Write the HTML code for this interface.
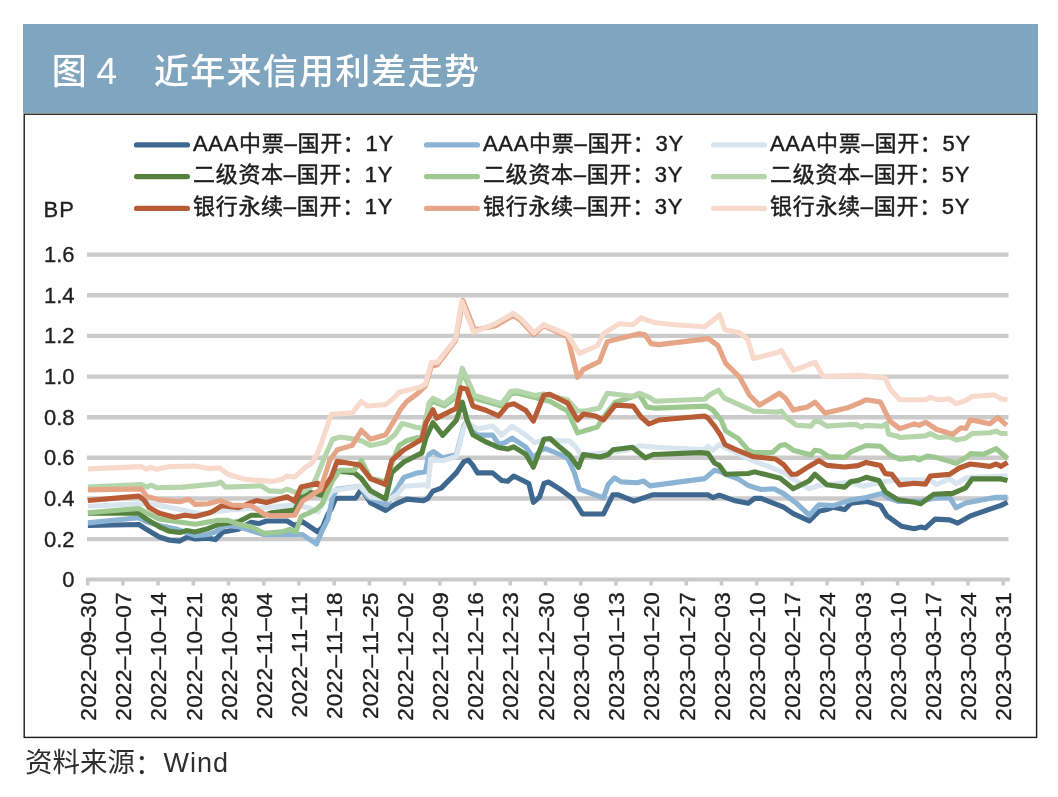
<!DOCTYPE html>
<html lang="zh-CN">
<head>
<meta charset="utf-8">
<title>图 4 近年来信用利差走势</title>
<style>
html,body{margin:0;padding:0;background:#fff;}
body{width:1058px;height:797px;position:relative;overflow:hidden;font-family:"Liberation Sans","Noto Sans CJK SC",sans-serif;}
.hdr{position:absolute;left:23px;top:24px;width:1015px;height:89px;background:#7fa5bf;}
.ttl{position:absolute;top:0;height:89px;line-height:95px;color:#fff;font-size:35px;font-weight:500;white-space:pre;}
.chart{position:absolute;left:0;top:0;}
.lat{font-family:"Liberation Sans",sans-serif;}
.leg{font-family:"Liberation Sans","Noto Sans CJK SC",sans-serif;}
.src{position:absolute;left:25px;top:744.5px;font-size:27.5px;line-height:36px;color:#2e2e2e;font-weight:400;white-space:pre;}
</style>
</head>
<body>
<div class="hdr"><span class="ttl" style="left:28.8px">图</span><span class="ttl" style="left:73.2px;font-weight:400;font-size:37.5px">4</span><span class="ttl" style="left:131px;letter-spacing:1.25px">近年来信用利差走势</span></div>
<svg class="chart" width="1058" height="797" viewBox="0 0 1058 797">
<rect x="24.2" y="114.2" width="1012.4" height="623.2" fill="none" stroke="#1a1a1a" stroke-width="1.4"/>
<g stroke="#cbcbcb" stroke-width="4.4" fill="none">
<line x1="87" y1="539.1" x2="1008.5" y2="539.1"/>
<line x1="87" y1="498.5" x2="1008.5" y2="498.5"/>
<line x1="87" y1="457.8" x2="1008.5" y2="457.8"/>
<line x1="87" y1="417.2" x2="1008.5" y2="417.2"/>
<line x1="87" y1="376.6" x2="1008.5" y2="376.6"/>
<line x1="87" y1="335.9" x2="1008.5" y2="335.9"/>
<line x1="87" y1="295.2" x2="1008.5" y2="295.2"/>
<line x1="87" y1="254.6" x2="1008.5" y2="254.6"/>
</g>
<g fill="none" stroke-width="5.1" stroke-linejoin="round" stroke-linecap="butt">
<polyline stroke="#3e6890" points="87.9,525.5 138.9,524.5 146.5,529.3 159.3,537.0 169.6,540.2 179.8,541.1 187.5,537.0 195.2,538.9 208.0,538.3 215.4,539.6 223.0,531.9 238.4,529.3 251.2,522.3 258.9,523.6 266.5,521.0 287.0,521.0 294.7,525.5 302.4,521.7 317.7,531.9 322.8,526.8 328.0,514.0 331.2,508.9 335.7,498.3 355.4,498.3 361.4,489.2 370.5,502.8 385.6,510.4 394.7,504.3 406.8,499.1 423.4,500.6 427.6,498.6 432.9,491.1 441.2,488.1 456.3,472.9 463.9,461.6 468.4,460.1 472.9,465.4 477.5,472.9 492.6,472.9 501.7,480.5 507.7,481.2 513.8,476.0 528.9,483.5 533.4,502.4 539.5,497.1 544.0,483.5 548.5,482.0 560.0,489.1 572.9,498.7 582.5,514.0 603.4,514.0 613.0,494.7 617.8,494.7 633.9,501.1 653.2,494.7 707.8,494.7 712.9,497.6 719.3,495.2 735.3,500.8 748.2,503.2 754.6,498.4 761.1,498.4 783.6,507.2 793.2,513.6 809.3,520.9 818.9,511.2 826.9,509.6 833.4,507.2 844.6,509.6 851.0,503.2 866.1,501.4 880.5,505.4 887.0,515.9 901.4,526.3 914.3,528.7 920.7,527.1 925.5,527.9 935.2,519.1 949.6,519.9 957.7,523.1 970.5,515.9 991.4,508.6 1001.0,505.4 1007.5,502.2"/>
<polyline stroke="#8ab3d4" points="87.9,522.9 138.9,517.8 146.5,521.7 159.3,525.5 177.2,529.3 195.2,535.7 208.0,534.5 215.4,531.9 225.6,525.5 238.4,526.8 264.0,534.5 289.6,534.5 302.4,534.5 316.4,544.0 322.8,529.3 328.0,519.1 332.7,496.8 337.2,489.2 359.9,486.2 367.5,496.8 386.9,505.0 394.8,492.2 403.9,477.4 417.5,472.9 425.4,471.7 428.8,454.7 433.4,451.5 442.7,457.8 456.3,454.8 463.9,426.0 466.9,421.0 472.0,430.0 477.5,435.1 492.6,435.1 498.6,444.2 504.7,442.7 512.2,438.1 525.9,447.2 533.4,457.8 541.0,450.2 545.5,448.7 560.0,454.5 568.0,458.6 574.5,473.0 579.3,489.1 603.4,497.9 608.2,484.3 614.6,477.8 621.1,481.9 637.1,482.7 643.6,481.1 650.0,485.9 704.6,478.6 714.5,470.3 720.9,471.9 725.7,474.3 738.6,479.1 748.2,485.5 761.1,489.5 773.9,488.7 783.6,493.6 796.4,503.2 809.3,515.2 818.9,504.8 833.4,505.6 851.0,500.0 866.1,497.4 882.1,493.4 888.6,498.2 898.2,501.4 920.7,501.4 933.6,498.2 949.6,497.4 956.1,507.8 965.7,503.0 994.6,497.4 1007.5,497.4"/>
<polyline stroke="#d8e5ef" points="87.9,506.3 138.9,503.7 151.7,503.7 169.6,507.6 182.4,510.1 200.0,514.0 230.0,510.0 260.0,508.0 295.0,505.0 310.0,508.0 318.0,512.0 325.0,500.0 332.7,490.7 359.9,486.2 370.5,496.8 388.6,499.8 397.7,493.8 403.8,486.2 424.9,484.7 428.0,486.5 430.6,459.3 442.7,460.8 456.3,456.3 463.9,427.6 466.9,422.0 472.0,426.0 477.5,429.1 492.6,426.0 501.7,435.1 512.2,426.0 525.9,435.1 534.9,442.7 544.0,439.7 560.0,440.9 569.6,440.9 576.0,447.3 581.0,455.3 613.0,452.0 629.0,449.7 640.3,445.7 656.4,447.3 704.6,449.7 708.0,446.2 712.9,450.2 719.3,444.5 724.1,447.0 754.6,461.4 772.3,467.8 783.6,472.7 793.2,479.1 809.3,488.7 818.9,485.5 850.0,482.1 862.9,486.2 882.1,482.1 898.2,479.7 920.7,479.7 930.3,480.5 936.8,484.5 949.6,478.9 956.1,483.7 965.7,478.1 972.1,477.3 1007.5,475.7"/>
<polyline stroke="#55833f" points="87.9,513.3 138.9,513.3 146.5,519.1 159.3,526.8 169.6,531.3 179.8,532.5 186.2,530.6 195.2,531.9 208.0,528.7 219.2,524.2 238.4,521.7 251.2,515.3 264.0,515.3 271.7,512.7 294.7,510.1 301.1,497.3 310.0,492.2 322.1,495.3 326.6,487.7 332.7,478.6 338.7,471.1 353.9,472.6 361.4,478.6 370.5,490.7 385.6,499.1 391.7,472.6 403.8,462.0 421.9,452.9 426.0,437.7 432.9,422.6 442.7,435.4 456.3,420.3 462.3,402.2 466.9,419.6 472.9,434.7 486.5,442.2 498.6,447.5 507.7,449.1 513.8,446.8 525.9,454.4 533.4,467.2 544.0,439.2 550.1,438.5 560.0,447.3 569.6,455.3 578.5,467.4 583.3,454.5 600.2,457.0 608.2,454.5 613.0,449.7 632.3,447.3 645.2,457.8 653.2,454.5 700.0,452.6 708.0,453.4 714.5,463.0 719.3,465.4 725.7,474.3 748.2,473.5 754.6,471.9 780.3,478.3 793.2,488.7 809.3,480.7 814.9,474.3 826.9,484.7 844.6,487.1 851.0,481.5 858.0,480.5 866.1,477.3 878.9,480.5 885.3,491.8 898.2,499.8 914.3,502.2 920.7,503.8 933.6,494.2 952.8,493.4 965.7,487.8 972.1,478.9 1001.0,478.9 1007.5,480.5"/>
<polyline stroke="#9dc990" points="87.9,512.7 138.9,508.5 146.5,512.7 159.3,519.1 177.2,521.7 195.2,524.2 216.6,520.4 228.2,520.4 238.4,524.2 251.2,526.8 264.0,533.2 281.9,531.9 289.6,529.3 296.0,531.9 301.1,516.5 315.2,510.1 322.1,504.3 332.7,480.2 340.2,470.3 353.9,470.3 361.4,460.5 370.5,478.6 385.6,481.7 391.7,463.5 399.2,445.4 406.8,440.8 421.9,436.3 429.0,405.9 432.9,401.4 444.2,406.0 456.3,396.9 462.3,371.2 469.9,387.8 474.4,398.4 501.7,406.0 510.7,393.9 516.8,393.0 534.9,397.6 544.0,400.0 549.8,401.2 567.6,411.1 577.6,432.9 597.4,427.0 603.4,417.0 615.3,402.1 631.2,397.2 639.1,394.2 647.0,407.1 655.0,408.1 706.6,406.1 712.9,410.0 720.9,419.6 725.7,430.9 738.6,438.9 748.2,450.2 754.6,452.6 772.3,452.6 780.3,445.4 785.2,444.5 793.2,450.2 810.9,455.0 814.9,450.2 820.5,451.0 828.5,456.6 844.6,457.4 851.0,451.8 866.1,445.5 880.5,446.3 890.2,455.2 899.8,459.2 914.3,457.6 919.1,460.0 927.1,456.0 936.8,457.6 956.1,463.2 965.7,457.6 970.5,453.6 983.4,454.4 996.2,448.7 1007.5,458.4"/>
<polyline stroke="#b5d5ab" points="87.9,487.1 141.4,484.5 146.5,487.1 151.7,485.2 156.8,487.7 182.4,487.1 216.6,483.9 220.5,482.0 225.6,487.1 243.5,486.5 261.4,485.8 269.1,490.9 281.9,491.6 287.0,489.0 294.7,492.2 303.0,492.0 312.0,486.0 316.0,478.6 325.1,456.0 332.7,439.3 340.2,437.0 355.4,439.3 361.4,440.8 370.5,445.4 385.6,442.3 394.7,434.8 402.2,423.4 415.9,427.2 424.9,428.7 429.0,402.9 432.9,398.4 444.2,403.7 456.3,393.9 462.3,368.2 469.9,384.8 474.4,395.4 501.7,403.7 510.7,391.6 516.8,390.8 534.9,395.4 543.8,394.0 567.6,400.0 577.6,411.0 585.5,411.0 599.4,408.0 607.3,393.2 633.1,396.2 639.1,393.2 649.0,397.2 655.0,401.2 704.6,399.2 710.6,394.2 718.5,390.2 724.4,398.2 753.6,411.1 777.4,412.1 781.4,411.1 786.8,418.0 796.4,425.3 810.9,426.1 814.9,421.2 820.5,422.1 826.9,426.1 851.0,424.5 856.4,424.6 861.2,427.0 866.1,425.4 882.1,426.2 886.2,423.8 888.6,434.3 896.6,435.9 899.8,437.5 925.5,435.9 930.3,433.5 938.4,437.5 949.6,436.7 956.1,439.9 965.7,438.3 972.1,433.5 989.8,432.7 996.2,431.1 1001.0,433.5 1007.5,433.5"/>
<polyline stroke="#b85c36" points="87.9,500.5 138.9,496.1 144.0,499.9 149.1,507.6 159.3,513.3 174.7,517.2 184.9,515.3 195.2,516.5 208.0,513.3 212.8,511.4 221.8,505.7 238.4,507.6 256.3,500.5 266.5,502.5 287.0,496.7 294.7,501.2 301.1,487.1 317.7,483.3 322.8,489.7 331.2,477.1 337.2,461.2 359.9,465.0 370.5,478.6 385.6,484.7 391.7,460.5 403.8,449.9 421.9,439.3 426.0,422.6 432.9,409.7 436.6,418.1 456.3,408.2 460.8,387.8 466.9,389.3 472.9,406.0 486.5,410.5 498.6,415.8 507.7,405.2 513.8,403.7 525.9,410.5 533.4,421.1 543.8,395.2 549.8,394.2 567.6,403.1 577.6,420.0 583.5,414.1 595.4,416.0 603.4,420.0 615.3,405.1 633.1,406.1 641.1,417.0 649.0,424.0 658.9,420.0 704.6,416.0 708.0,418.0 714.5,426.1 720.9,435.7 724.9,444.5 735.3,449.4 753.0,456.6 775.5,459.0 783.6,464.6 791.6,474.3 796.4,474.3 809.3,466.2 818.9,460.6 826.9,465.4 844.6,467.0 858.0,465.6 866.1,462.4 880.5,465.6 885.3,473.6 891.8,474.4 899.8,484.9 914.3,483.3 925.5,484.1 930.3,476.0 949.6,474.4 959.3,468.0 970.5,464.0 989.8,466.4 996.2,464.0 1001.0,466.4 1007.5,462.4"/>
<polyline stroke="#e6a587" points="87.9,489.9 141.4,489.0 146.5,496.1 159.3,499.9 179.8,501.8 188.8,499.3 195.2,504.4 208.0,503.7 212.8,502.5 220.5,500.5 232.0,505.0 251.2,505.7 264.0,514.0 271.7,515.9 294.7,515.3 302.4,501.2 320.3,489.7 329.7,460.5 337.2,449.9 352.3,445.4 361.4,430.2 370.5,439.3 385.6,434.8 394.7,419.7 400.7,409.1 406.8,401.5 417.8,393.4 425.4,385.9 431.4,366.2 437.5,364.7 455.6,340.5 462.9,300.4 474.5,329.9 494.9,326.1 513.1,315.5 520.0,319.8 533.9,334.7 543.8,325.7 567.6,336.6 577.6,377.3 583.5,369.4 599.4,361.5 607.3,341.6 639.1,333.7 645.0,334.7 651.0,343.6 658.9,344.6 708.6,338.6 717.9,345.6 725.8,363.4 739.7,377.3 749.6,395.2 759.5,405.1 779.4,393.2 785.4,398.2 793.3,410.1 807.2,407.1 815.1,402.1 825.0,413.1 846.9,408.1 859.6,402.9 866.1,399.7 880.5,402.1 885.3,411.8 890.2,421.4 899.8,428.6 914.3,423.8 919.1,425.4 925.5,422.2 936.8,429.5 952.8,434.3 960.9,427.8 965.7,428.6 970.5,419.8 989.8,423.8 997.8,417.4 1006.7,425.4"/>
<polyline stroke="#f8dacd" points="87.9,468.9 141.4,466.6 146.5,469.2 150.4,467.3 156.8,469.2 169.6,466.6 195.2,466.0 208.0,468.6 219.2,467.9 228.2,474.3 244.8,479.4 271.7,481.4 281.9,479.4 287.0,476.2 294.7,476.9 306.2,466.6 312.0,463.0 319.1,449.9 331.2,414.4 352.3,412.9 361.4,401.5 367.5,406.0 385.6,404.5 391.7,400.0 399.7,391.9 419.3,387.4 425.4,384.3 431.4,362.4 437.5,362.4 455.6,339.0 461.7,301.2 473.8,332.2 494.9,323.9 513.1,313.3 520.0,317.8 533.9,332.7 543.8,324.7 567.6,334.7 579.5,353.5 597.4,345.6 603.4,333.7 619.2,323.7 633.1,324.7 641.1,317.8 655.0,322.8 674.8,324.7 704.6,326.7 709.9,322.8 719.8,314.8 724.8,329.7 739.7,332.7 747.6,339.6 753.6,358.5 777.4,352.5 781.4,350.5 793.3,370.4 815.1,362.4 823.1,376.3 858.8,375.4 885.3,378.0 890.2,389.3 899.8,399.7 925.5,399.7 930.3,397.3 936.8,399.7 949.6,398.9 956.1,403.7 965.7,400.5 972.1,396.5 994.6,394.9 1001.0,398.9 1007.5,399.7"/>
</g>
<g stroke="#c9c9c9" fill="none">
<line x1="86" y1="579.5" x2="1009.8" y2="579.5" stroke-width="3.8"/>
<line x1="87.7" y1="579" x2="87.7" y2="585.5" stroke-width="3.6"/>
<line x1="122.9" y1="579" x2="122.9" y2="585.5" stroke-width="3.6"/>
<line x1="158.1" y1="579" x2="158.1" y2="585.5" stroke-width="3.6"/>
<line x1="193.3" y1="579" x2="193.3" y2="585.5" stroke-width="3.6"/>
<line x1="228.5" y1="579" x2="228.5" y2="585.5" stroke-width="3.6"/>
<line x1="263.8" y1="579" x2="263.8" y2="585.5" stroke-width="3.6"/>
<line x1="299.0" y1="579" x2="299.0" y2="585.5" stroke-width="3.6"/>
<line x1="334.2" y1="579" x2="334.2" y2="585.5" stroke-width="3.6"/>
<line x1="369.4" y1="579" x2="369.4" y2="585.5" stroke-width="3.6"/>
<line x1="404.6" y1="579" x2="404.6" y2="585.5" stroke-width="3.6"/>
<line x1="439.8" y1="579" x2="439.8" y2="585.5" stroke-width="3.6"/>
<line x1="475.0" y1="579" x2="475.0" y2="585.5" stroke-width="3.6"/>
<line x1="510.2" y1="579" x2="510.2" y2="585.5" stroke-width="3.6"/>
<line x1="545.5" y1="579" x2="545.5" y2="585.5" stroke-width="3.6"/>
<line x1="580.7" y1="579" x2="580.7" y2="585.5" stroke-width="3.6"/>
<line x1="615.9" y1="579" x2="615.9" y2="585.5" stroke-width="3.6"/>
<line x1="651.1" y1="579" x2="651.1" y2="585.5" stroke-width="3.6"/>
<line x1="686.3" y1="579" x2="686.3" y2="585.5" stroke-width="3.6"/>
<line x1="721.5" y1="579" x2="721.5" y2="585.5" stroke-width="3.6"/>
<line x1="756.7" y1="579" x2="756.7" y2="585.5" stroke-width="3.6"/>
<line x1="791.9" y1="579" x2="791.9" y2="585.5" stroke-width="3.6"/>
<line x1="827.1" y1="579" x2="827.1" y2="585.5" stroke-width="3.6"/>
<line x1="862.4" y1="579" x2="862.4" y2="585.5" stroke-width="3.6"/>
<line x1="897.6" y1="579" x2="897.6" y2="585.5" stroke-width="3.6"/>
<line x1="932.8" y1="579" x2="932.8" y2="585.5" stroke-width="3.6"/>
<line x1="968.0" y1="579" x2="968.0" y2="585.5" stroke-width="3.6"/>
<line x1="1003.2" y1="579" x2="1003.2" y2="585.5" stroke-width="3.6"/>
</g>
<g class="lat" font-size="22" fill="#1f1f1f" stroke="#1f1f1f" stroke-width="0.35" text-anchor="end">
<text x="74.6" y="587.2">0</text>
<text x="74.6" y="546.5">0.2</text>
<text x="74.6" y="505.9">0.4</text>
<text x="74.6" y="465.2">0.6</text>
<text x="74.6" y="424.6">0.8</text>
<text x="74.6" y="383.9">1.0</text>
<text x="74.6" y="343.3">1.2</text>
<text x="74.6" y="302.6">1.4</text>
<text x="74.6" y="262.0">1.6</text>
<text x="43.5" y="216.6" text-anchor="start" letter-spacing="1.2">BP</text>
</g>
<g class="lat" font-size="22.5" fill="#1f1f1f" stroke="#1f1f1f" stroke-width="0.35" text-anchor="end" letter-spacing="0.36">
<text transform="translate(95.9,592) rotate(-90)">2022–09–30</text>
<text transform="translate(131.1,592) rotate(-90)">2022–10–07</text>
<text transform="translate(166.3,592) rotate(-90)">2022–10–14</text>
<text transform="translate(201.5,592) rotate(-90)">2022–10–21</text>
<text transform="translate(236.7,592) rotate(-90)">2022–10–28</text>
<text transform="translate(272.0,592) rotate(-90)">2022–11–04</text>
<text transform="translate(307.2,592) rotate(-90)">2022–11–11</text>
<text transform="translate(342.4,592) rotate(-90)">2022–11–18</text>
<text transform="translate(377.6,592) rotate(-90)">2022–11–25</text>
<text transform="translate(412.8,592) rotate(-90)">2022–12–02</text>
<text transform="translate(448.0,592) rotate(-90)">2022–12–09</text>
<text transform="translate(483.2,592) rotate(-90)">2022–12–16</text>
<text transform="translate(518.4,592) rotate(-90)">2022–12–23</text>
<text transform="translate(553.7,592) rotate(-90)">2022–12–30</text>
<text transform="translate(588.9,592) rotate(-90)">2023–01–06</text>
<text transform="translate(624.1,592) rotate(-90)">2023–01–13</text>
<text transform="translate(659.3,592) rotate(-90)">2023–01–20</text>
<text transform="translate(694.5,592) rotate(-90)">2023–01–27</text>
<text transform="translate(729.7,592) rotate(-90)">2023–02–03</text>
<text transform="translate(764.9,592) rotate(-90)">2023–02–10</text>
<text transform="translate(800.1,592) rotate(-90)">2023–02–17</text>
<text transform="translate(835.3,592) rotate(-90)">2023–02–24</text>
<text transform="translate(870.6,592) rotate(-90)">2023–03–03</text>
<text transform="translate(905.8,592) rotate(-90)">2023–03–10</text>
<text transform="translate(941.0,592) rotate(-90)">2023–03–17</text>
<text transform="translate(976.2,592) rotate(-90)">2023–03–24</text>
<text transform="translate(1011.4,592) rotate(-90)">2023–03–31</text>
</g>
<g class="leg" font-size="22" fill="#1c1c1c" letter-spacing="0.7">
<line x1="136.6" y1="144.9" x2="187.4" y2="144.9" stroke="#3e6890" stroke-width="5.3" stroke-linecap="round"/>
<text x="193.0" y="150.6" stroke="#1c1c1c" stroke-width="0.45">AAA中票–国开：1Y</text>
<line x1="426.6" y1="144.9" x2="477.4" y2="144.9" stroke="#8ab3d4" stroke-width="5.3" stroke-linecap="round"/>
<text x="483.0" y="150.6" stroke="#1c1c1c" stroke-width="0.45">AAA中票–国开：3Y</text>
<line x1="713.6" y1="144.9" x2="764.4" y2="144.9" stroke="#d8e5ef" stroke-width="5.3" stroke-linecap="round"/>
<text x="770.0" y="150.6" stroke="#1c1c1c" stroke-width="0.45">AAA中票–国开：5Y</text>
<line x1="136.6" y1="176.6" x2="187.4" y2="176.6" stroke="#55833f" stroke-width="5.3" stroke-linecap="round"/>
<text x="193.0" y="182.3" stroke="#1c1c1c" stroke-width="0.45">二级资本–国开：1Y</text>
<line x1="426.6" y1="176.6" x2="477.4" y2="176.6" stroke="#9dc990" stroke-width="5.3" stroke-linecap="round"/>
<text x="483.0" y="182.3" stroke="#1c1c1c" stroke-width="0.45">二级资本–国开：3Y</text>
<line x1="713.6" y1="176.6" x2="764.4" y2="176.6" stroke="#b5d5ab" stroke-width="5.3" stroke-linecap="round"/>
<text x="770.0" y="182.3" stroke="#1c1c1c" stroke-width="0.45">二级资本–国开：5Y</text>
<line x1="136.6" y1="208.4" x2="187.4" y2="208.4" stroke="#b85c36" stroke-width="5.3" stroke-linecap="round"/>
<text x="193.0" y="214.1" stroke="#1c1c1c" stroke-width="0.45">银行永续–国开：1Y</text>
<line x1="426.6" y1="208.4" x2="477.4" y2="208.4" stroke="#e6a587" stroke-width="5.3" stroke-linecap="round"/>
<text x="483.0" y="214.1" stroke="#1c1c1c" stroke-width="0.45">银行永续–国开：3Y</text>
<line x1="713.6" y1="208.4" x2="764.4" y2="208.4" stroke="#f8dacd" stroke-width="5.3" stroke-linecap="round"/>
<text x="770.0" y="214.1" stroke="#1c1c1c" stroke-width="0.45">银行永续–国开：5Y</text>
</g>
</svg>
<div class="src"><span style="letter-spacing:0px">资料来源</span><span style="position:absolute;left:110px;top:2.5px">：</span><span style="position:absolute;left:138.5px;top:0;letter-spacing:1.0px;font-size:27px">Wind</span></div>
</body>
</html>
